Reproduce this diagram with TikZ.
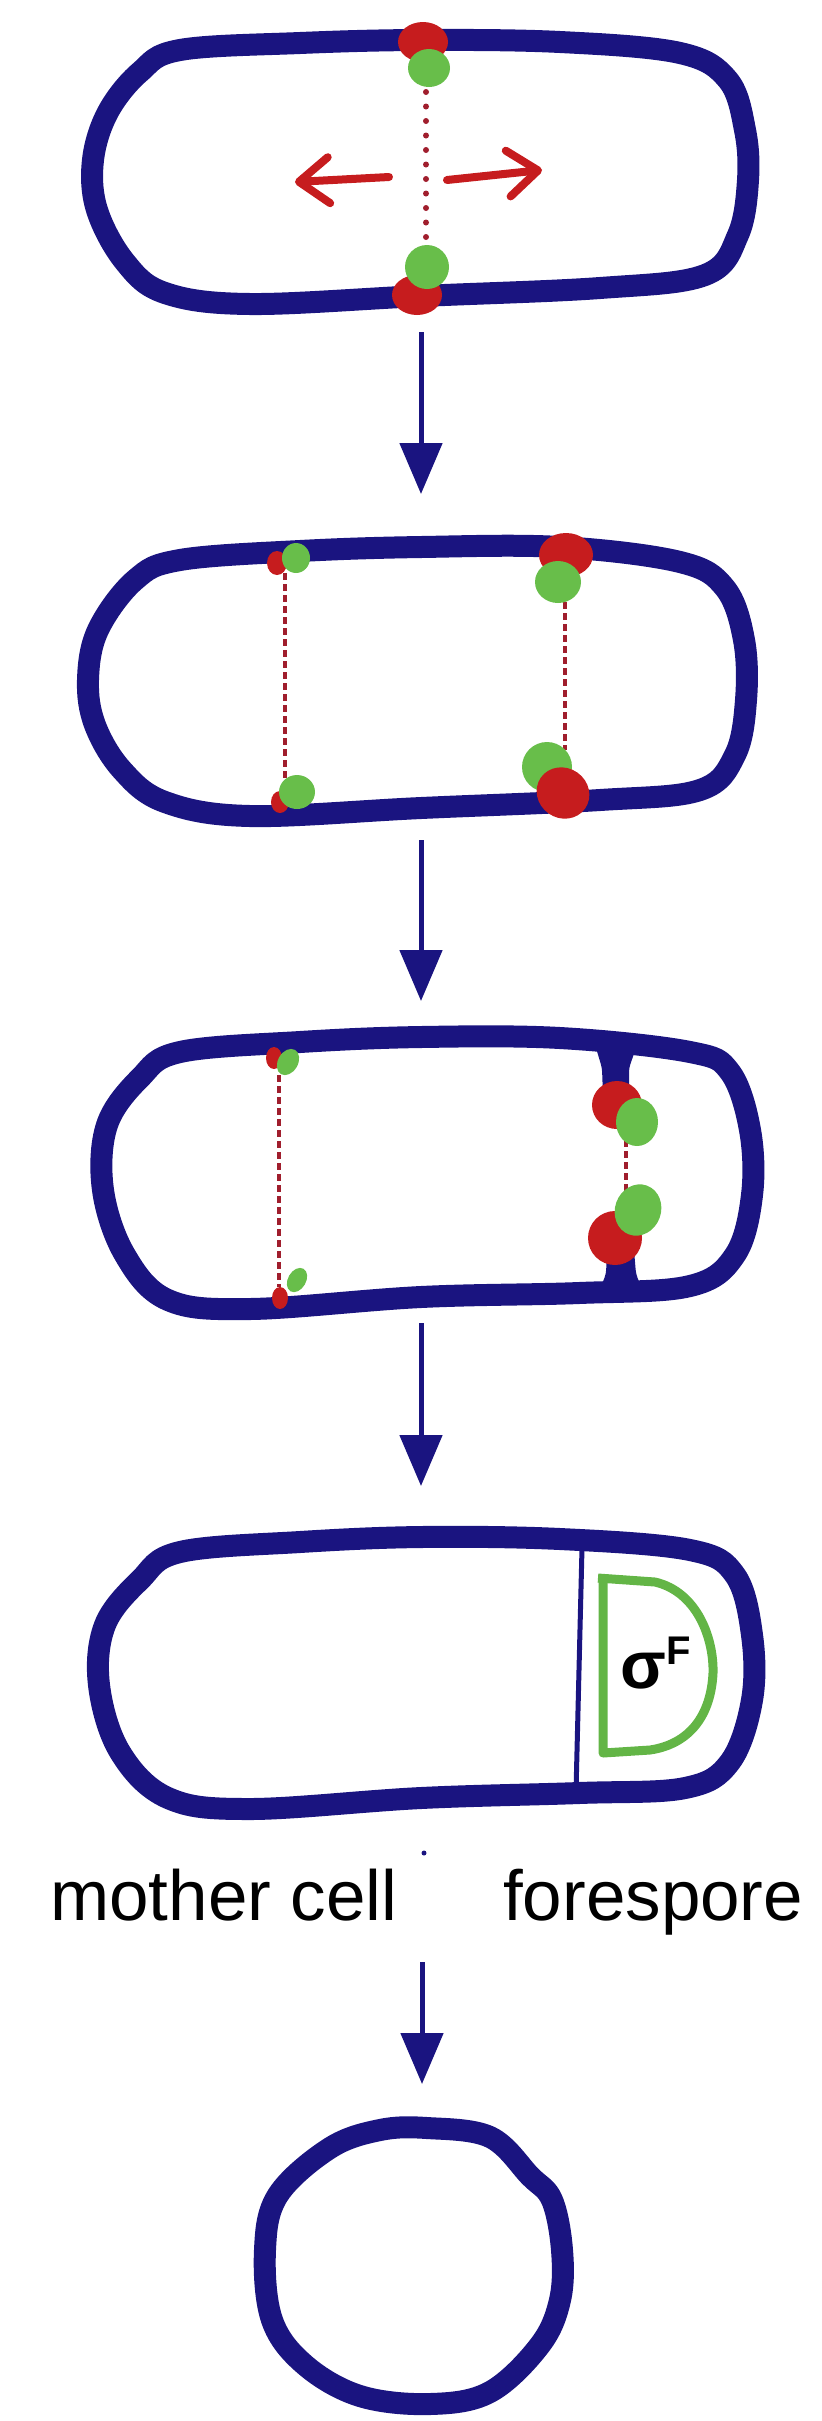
\documentclass[tikz,border=0pt]{standalone}
\usepackage{fontspec}
\setmainfont{Liberation Sans}
\usetikzlibrary{positioning}
\usetikzlibrary{arrows.meta}
\definecolor{wall colour}{RGB}{26,20,128}
\definecolor{origin colour}{RGB}{198,28,30}
\definecolor{terminus colour}{RGB}{104,190,74}
\definecolor{arm colour}{RGB}{160,30,45}
\colorlet{sigma colour}{terminus colour!95!black}
\tikzset{
    % Cell envelope, drawn freehand through a list of points
    wall/.style={draw=wall colour, line width=22pt, line join=round},
    thin septum/.style={draw=wall colour, line width=5pt},
    % Arrows from one stage to the next
    stage arrow/.style={draw=wall colour, line width=5pt,
        -{Triangle[length=51pt, width=42pt]}},
%
    % Chromosome: arms between the spots, then the spots themselves
    arm dots/.style={draw=arm colour, line width=6pt, line cap=round,
        dash pattern=on 0pt off 14.5pt},
    arm dashes/.style={draw=arm colour, line width=4pt,
        dash pattern=on 7pt off 4pt},
    ori/.style={fill=origin colour},
    ter/.style={fill=terminus colour},
    pull/.style={draw=origin colour, line width=8pt, line cap=round,
        -{Straight Barb[length=30pt, width=46pt, round]}},
%
    % Text below the sporangium
    caption/.style={font=\fontsize{71}{80}\selectfont, inner sep=0},
}

\begin{document}
\begin{tikzpicture}[x=1pt, y=-1pt]

\useasboundingbox (0,0) rectangle (822,2421);

% stage 1: origins at midcell, moving apart
\draw[wall] plot[smooth cycle, tension=0.6] coordinates {
    (180,50) (300,43) (421,40) (560,42) (680,53) (728,80)
    (745,130) (748,180) (738,235) (705,275) (600,288) (421,296)
    (250,304) (165,293) (125,262) (97,210) (93,160) (108,112)
    (140,72)};
\draw[arm dots] (426,92) -- (426,240);
\fill[ori] (423,42) ellipse [x radius=25, y radius=20];
\fill[ori] (417,295) ellipse [x radius=25, y radius=20];
\fill[ter] (429,68) ellipse [x radius=21, y radius=19];
\fill[ter] (427,267) ellipse [x radius=22, y radius=22];
\coordinate (pull left tail) at (389,177);
\coordinate (pull left tip) at (295,182);
\coordinate (pull right tail) at (447,180);
\coordinate (pull right tip) at (542,170);
\draw[pull] (pull left tail) -- (pull left tip);
\draw[pull] (pull right tail) -- (pull right tip);

% stage 2: two chromosomes, one near the pole
\draw[wall] plot[smooth cycle, tension=0.6] coordinates {
    (180,560) (300,551) (421,547) (560,547) (680,562) (725,588)
    (744,640) (746,700) (735,755) (700,790) (600,800) (421,808)
    (250,816) (165,802) (122,770) (95,725) (88,680) (98,630)
    (135,580)};
\draw[arm dashes] (285,573) -- (285,783);
\draw[arm dashes] (565,602) -- (565,750);
\fill[ori] (277,563) ellipse [x radius=10, y radius=12];
\fill[ter] (296,558) ellipse [x radius=14, y radius=15];
\fill[ori] (280,802) ellipse [x radius=9, y radius=11];
\fill[ter] (297,792) ellipse [x radius=18, y radius=17];
\fill[ori] (566,555) ellipse [x radius=27, y radius=22];
\fill[ter] (558,582) ellipse [x radius=23, y radius=21];
\fill[ter] (547,767) ellipse [x radius=25, y radius=25];
\fill[ori] (563,793) ellipse [x radius=27, y radius=25, rotate=-35];

% stage 3: asymmetric septum closing round the chromosome
\draw[wall] plot[smooth cycle, tension=0.6] coordinates {
    (180,1052) (300,1042) (421,1037) (560,1038) (690,1052) (730,1072)
    (750,1130) (752,1195) (735,1255) (690,1286) (579,1293) (421,1297)
    (250,1309) (168,1300) (125,1255) (103,1190) (107,1125) (140,1078)};
\fill[wall colour, rounded corners=4pt] (596,1048) -- (636,1048)
    -- (629,1068) -- (629,1096) -- (603,1096) -- (602,1068) -- cycle;
\fill[wall colour, rounded corners=4pt] (607,1250) -- (634,1250)
    -- (636,1274) -- (644,1294) -- (598,1294) -- (606,1274) -- cycle;
\draw[arm dashes] (279,1075) -- (279,1287);
\draw[arm dashes] (626,1140) -- (626,1192);
\fill[ori] (274,1058) ellipse [x radius=8, y radius=11];
\fill[ter] (288,1062) ellipse [x radius=10, y radius=14, rotate=-30];
\fill[ter] (297,1280) ellipse [x radius=9, y radius=13, rotate=-30];
\fill[ori] (280,1298) ellipse [x radius=8, y radius=11];
\fill[ori] (617,1105) ellipse [x radius=25, y radius=24];
\fill[ter] (637,1122) ellipse [x radius=21, y radius=24];
\fill[ori] (615,1238) ellipse [x radius=27, y radius=27];
\fill[ter] (638,1210) ellipse [x radius=23, y radius=26, rotate=-20];

% stage 4: mother cell and forespore
\draw[wall] plot[smooth cycle, tension=0.6] coordinates {
    (180,1552) (300,1542) (421,1537) (560,1539) (690,1550) (735,1575)
    (752,1635) (752,1700) (730,1762) (685,1788) (579,1793) (421,1798)
    (250,1809) (168,1798) (120,1752) (99,1685) (105,1625) (140,1580)};
\coordinate (septum top) at (582,1548);
\coordinate (septum bottom) at (576,1792);
\draw[thin septum] (septum top) -- (septum bottom);
\draw[sigma colour, line width=9pt, line join=round]
    (598,1578) -- (655,1582)
    .. controls (698,1592) and (714,1640) .. (713,1673)
    .. controls (711,1715) and (690,1744) .. (650,1750)
    -- (603,1753) -- (603,1582);
\node (sigma) [anchor=base west, inner sep=0,
    font=\bfseries\fontsize{67}{70}\selectfont] at (620,1688)
    {σ\raisebox{24pt}{\fontsize{40}{44}\selectfont F}};
\fill[wall colour] (424,1853) circle (2.5);
\node (mother) [caption, anchor=base west] at (50,1920) {mother cell};
\node (forespore) [caption, anchor=base west] at (503,1920) {forespore};

% stage 5: free spore
\draw[wall] plot[smooth cycle, tension=0.6] coordinates {
    (427,2128) (490,2137) (530,2176) (552,2200) (562,2250) (560,2300)
    (540,2345) (490,2392) (430,2404) (360,2396) (305,2365) (272,2320)
    (265,2250) (278,2195) (330,2148) (380,2130)};

% arrows between the stages
\coordinate (s1 out) at (421,332);
\coordinate (s2 in) at (421,494);
\coordinate (s2 out) at (421,840);
\coordinate (s3 in) at (421,1001);
\coordinate (s3 out) at (421,1323);
\coordinate (s4 in) at (421,1486);
\coordinate (s4 out) at (422,1962);
\coordinate (s5 in) at (422,2084);
\draw[stage arrow] (s1 out) -- (s2 in);
\draw[stage arrow] (s2 out) -- (s3 in);
\draw[stage arrow] (s3 out) -- (s4 in);
\draw[stage arrow] (s4 out) -- (s5 in);

\end{tikzpicture}
\end{document}
